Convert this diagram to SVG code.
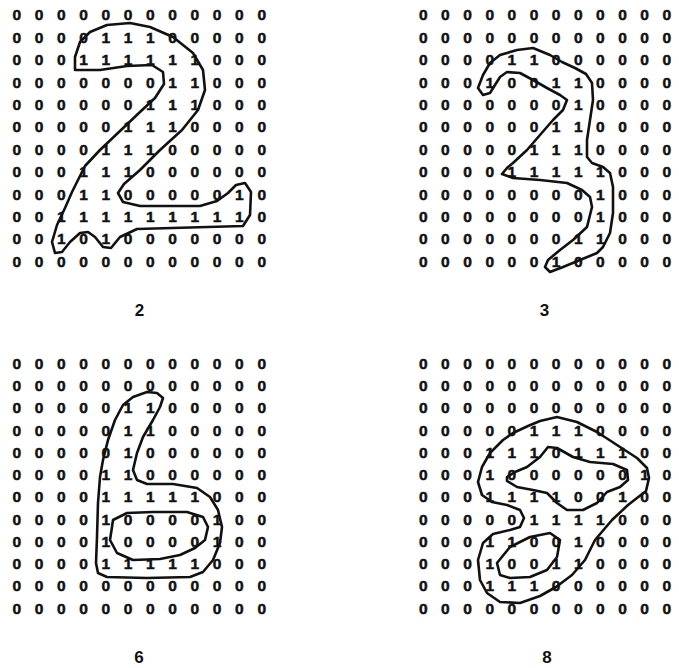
<svg xmlns="http://www.w3.org/2000/svg" width="679" height="668" viewBox="0 0 679 668">
<style>
.d{font-family:"Liberation Sans",Arial,sans-serif;font-weight:bold;font-size:15.5px;text-anchor:middle;fill:#111;stroke:#111;stroke-width:0.5}
.lb{font-family:"Liberation Sans",Arial,sans-serif;font-weight:bold;font-size:17px;text-anchor:middle;fill:#111}
.c{fill:none;stroke:#111;stroke-width:2.6;stroke-linejoin:round;stroke-linecap:round}
</style>
<rect width="679" height="668" fill="#fff"/>

<g id="panel-2">
<g id="grid-2" class="d" transform="translate(0,0.7)">
<text x="16.7 39 61.2 83.5 105.8 128.1 150.3 172.6 194.9 217.1 239.4 261.7" y="19.8">000000000000</text>
<text x="16.7 39 61.2 83.5 105.8 128.1 150.3 172.6 194.9 217.1 239.4 261.7" y="42.2">000011100000</text>
<text x="16.7 39 61.2 83.5 105.8 128.1 150.3 172.6 194.9 217.1 239.4 261.7" y="64.6">000111111000</text>
<text x="16.7 39 61.2 83.5 105.8 128.1 150.3 172.6 194.9 217.1 239.4 261.7" y="87">000000011000</text>
<text x="16.7 39 61.2 83.5 105.8 128.1 150.3 172.6 194.9 217.1 239.4 261.7" y="109.4">000000111000</text>
<text x="16.7 39 61.2 83.5 105.8 128.1 150.3 172.6 194.9 217.1 239.4 261.7" y="131.8">000001110000</text>
<text x="16.7 39 61.2 83.5 105.8 128.1 150.3 172.6 194.9 217.1 239.4 261.7" y="154.2">000011100000</text>
<text x="16.7 39 61.2 83.5 105.8 128.1 150.3 172.6 194.9 217.1 239.4 261.7" y="176.6">000111000000</text>
<text x="16.7 39 61.2 83.5 105.8 128.1 150.3 172.6 194.9 217.1 239.4 261.7" y="199">000110000010</text>
<text x="16.7 39 61.2 83.5 105.8 128.1 150.3 172.6 194.9 217.1 239.4 261.7" y="221.4">001111111110</text>
<text x="16.7 39 61.2 83.5 105.8 128.1 150.3 172.6 194.9 217.1 239.4 261.7" y="243.8">001010000000</text>
<text x="16.7 39 61.2 83.5 105.8 128.1 150.3 172.6 194.9 217.1 239.4 261.7" y="266.2">000000000000</text>
</g>
<path id="contour-2" class="c" d="M75,70 L75,57 L80,42 L90,32 L107,25 L130,23 L150,27 L173,37 L193,53 L203,70 L205,90 L198,110 L182,130 L160,150 L140,170 L124,184 L118,193 L123,202 L140,206 L200,206 L217,201 L228,193 L236,185 L245,183 L251,192 L250,215 L243,226 L137,229 L120,237 L111,248 L103,247 L95,237 L88,232 L80,233 L70,242 L62,252 L55,253 L52,242 L57,225 L65,208 L72,192 L85,166 L100,150 L120,131 L140,112 L155,98 L164,84 L163,72 L152,65 L127,66 L100,70 Z"/>
<text class="lb" x="139.5" y="316">2</text>
</g>

<g id="panel-3">
<g id="grid-3" class="d" transform="translate(0,0.7)">
<text x="423.3 445.4 467.6 489.7 511.8 534 556.1 578.2 600.3 622.5 644.6 666.7" y="19.8">000000000000</text>
<text x="423.3 445.4 467.6 489.7 511.8 534 556.1 578.2 600.3 622.5 644.6 666.7" y="42.2">000000000000</text>
<text x="423.3 445.4 467.6 489.7 511.8 534 556.1 578.2 600.3 622.5 644.6 666.7" y="64.6">000011000000</text>
<text x="423.3 445.4 467.6 489.7 511.8 534 556.1 578.2 600.3 622.5 644.6 666.7" y="87">000100110000</text>
<text x="423.3 445.4 467.6 489.7 511.8 534 556.1 578.2 600.3 622.5 644.6 666.7" y="109.4">000000010000</text>
<text x="423.3 445.4 467.6 489.7 511.8 534 556.1 578.2 600.3 622.5 644.6 666.7" y="131.8">000000110000</text>
<text x="423.3 445.4 467.6 489.7 511.8 534 556.1 578.2 600.3 622.5 644.6 666.7" y="154.2">000001110000</text>
<text x="423.3 445.4 467.6 489.7 511.8 534 556.1 578.2 600.3 622.5 644.6 666.7" y="176.6">000011111000</text>
<text x="423.3 445.4 467.6 489.7 511.8 534 556.1 578.2 600.3 622.5 644.6 666.7" y="199">000000001000</text>
<text x="423.3 445.4 467.6 489.7 511.8 534 556.1 578.2 600.3 622.5 644.6 666.7" y="221.4">000000001000</text>
<text x="423.3 445.4 467.6 489.7 511.8 534 556.1 578.2 600.3 622.5 644.6 666.7" y="243.8">000000011000</text>
<text x="423.3 445.4 467.6 489.7 511.8 534 556.1 578.2 600.3 622.5 644.6 666.7" y="266.2">000000100000</text>
</g>
<path id="contour-3" class="c" d="M478,88 L483,75 L490,63 L500,55 L517,50 L533,48 L550,55 L562,62 L575,68 L586,74 L592,83 L593,100 L590,120 L587,140 L587,157 L592,163 L603,167 L610,173 L613,187 L613,213 L610,233 L603,247 L597,253 L580,260 L563,267 L550,272 L545,267 L548,260 L560,250 L573,240 L587,227 L592,207 L590,197 L582,190 L567,183 L540,180 L513,178 L502,174 L507,168 L513,163 L527,150 L540,135 L553,120 L563,110 L567,100 L560,95 L547,88 L533,80 L520,73 L507,72 L500,77 L495,85 L490,93 L483,95 Z"/>
<text class="lb" x="544.5" y="316">3</text>
</g>

<g id="panel-6">
<g id="grid-6" class="d" transform="translate(0,0.7)">
<text x="16.7 39 61.2 83.5 105.8 128.1 150.3 172.6 194.9 217.1 239.4 261.7" y="368.1">000000000000</text>
<text x="16.7 39 61.2 83.5 105.8 128.1 150.3 172.6 194.9 217.1 239.4 261.7" y="390.4">000000000000</text>
<text x="16.7 39 61.2 83.5 105.8 128.1 150.3 172.6 194.9 217.1 239.4 261.7" y="412.6">000001100000</text>
<text x="16.7 39 61.2 83.5 105.8 128.1 150.3 172.6 194.9 217.1 239.4 261.7" y="434.9">000001100000</text>
<text x="16.7 39 61.2 83.5 105.8 128.1 150.3 172.6 194.9 217.1 239.4 261.7" y="457.2">000001000000</text>
<text x="16.7 39 61.2 83.5 105.8 128.1 150.3 172.6 194.9 217.1 239.4 261.7" y="479.5">000011000000</text>
<text x="16.7 39 61.2 83.5 105.8 128.1 150.3 172.6 194.9 217.1 239.4 261.7" y="501.7">000011111000</text>
<text x="16.7 39 61.2 83.5 105.8 128.1 150.3 172.6 194.9 217.1 239.4 261.7" y="524">000010000100</text>
<text x="16.7 39 61.2 83.5 105.8 128.1 150.3 172.6 194.9 217.1 239.4 261.7" y="546.3">000010000100</text>
<text x="16.7 39 61.2 83.5 105.8 128.1 150.3 172.6 194.9 217.1 239.4 261.7" y="568.5">000011111000</text>
<text x="16.7 39 61.2 83.5 105.8 128.1 150.3 172.6 194.9 217.1 239.4 261.7" y="590.8">000000000000</text>
<text x="16.7 39 61.2 83.5 105.8 128.1 150.3 172.6 194.9 217.1 239.4 261.7" y="613.1">000000000000</text>
</g>
<path id="contour-6-outer" class="c" d="M147,392 L157,393 L163,398 L160,407 L153,420 L143,437 L137,453 L133,470 L137,480 L147,484 L173,484 L197,488 L210,497 L218,510 L222,527 L220,543 L213,560 L203,572 L190,577 L147,578 L107,577 L98,573 L96,563 L97,537 L98,503 L100,477 L103,460 L108,440 L115,420 L123,405 L133,397 Z"/>
<path id="contour-6-inner" class="c" d="M113,520 L127,513 L153,512 L187,512 L203,517 L208,527 L205,540 L195,548 L180,555 L160,559 L133,560 L117,553 L110,540 L112,527 Z"/>
<text class="lb" x="139" y="663">6</text>
</g>

<g id="panel-8">
<g id="grid-8" class="d" transform="translate(0,0.7)">
<text x="423.3 445.4 467.6 489.7 511.8 534 556.1 578.2 600.3 622.5 644.6 666.7" y="368.1">000000000000</text>
<text x="423.3 445.4 467.6 489.7 511.8 534 556.1 578.2 600.3 622.5 644.6 666.7" y="390.4">000000000000</text>
<text x="423.3 445.4 467.6 489.7 511.8 534 556.1 578.2 600.3 622.5 644.6 666.7" y="412.6">000000000000</text>
<text x="423.3 445.4 467.6 489.7 511.8 534 556.1 578.2 600.3 622.5 644.6 666.7" y="434.9">000001110000</text>
<text x="423.3 445.4 467.6 489.7 511.8 534 556.1 578.2 600.3 622.5 644.6 666.7" y="457.2">000111011100</text>
<text x="423.3 445.4 467.6 489.7 511.8 534 556.1 578.2 600.3 622.5 644.6 666.7" y="479.5">000100000010</text>
<text x="423.3 445.4 467.6 489.7 511.8 534 556.1 578.2 600.3 622.5 644.6 666.7" y="501.7">000111100100</text>
<text x="423.3 445.4 467.6 489.7 511.8 534 556.1 578.2 600.3 622.5 644.6 666.7" y="524">000001111000</text>
<text x="423.3 445.4 467.6 489.7 511.8 534 556.1 578.2 600.3 622.5 644.6 666.7" y="546.3">000110010000</text>
<text x="423.3 445.4 467.6 489.7 511.8 534 556.1 578.2 600.3 622.5 644.6 666.7" y="568.5">000100110000</text>
<text x="423.3 445.4 467.6 489.7 511.8 534 556.1 578.2 600.3 622.5 644.6 666.7" y="590.8">000111000000</text>
<text x="423.3 445.4 467.6 489.7 511.8 534 556.1 578.2 600.3 622.5 644.6 666.7" y="613.1">000000000000</text>
</g>
<path id="contour-8-outer" class="c" d="M557,417 L577,422 L597,432 L617,445 L637,458 L647,468 L649,478 L646,491 L628,505 L612,520 L595,540 L585,560 L572,575 L556,587 L540,596 L520,603 L500,602 L487,593 L480,580 L478,560 L483,543 L493,534 L510,530 L520,527 L524,518 L520,510 L507,505 L492,502 L482,495 L478,482 L482,467 L490,453 L503,440 L513,433 L528,426 L540,421 Z"/>
<path id="contour-8-upper" class="c" d="M507,477 L515,472 L527,467 L540,457 L548,447 L557,448 L573,457 L590,462 L613,464 L627,470 L628,480 L620,487 L607,492 L597,503 L583,510 L567,510 L557,503 L547,493 L533,490 L517,487 L507,481 Z"/>
<path id="contour-8-lower" class="c" d="M497,563 L510,547 L530,537 L550,533 L560,540 L557,557 L547,570 L530,577 L510,578 L500,575 Z"/>
<text class="lb" x="547" y="663">8</text>
</g>
</svg>
